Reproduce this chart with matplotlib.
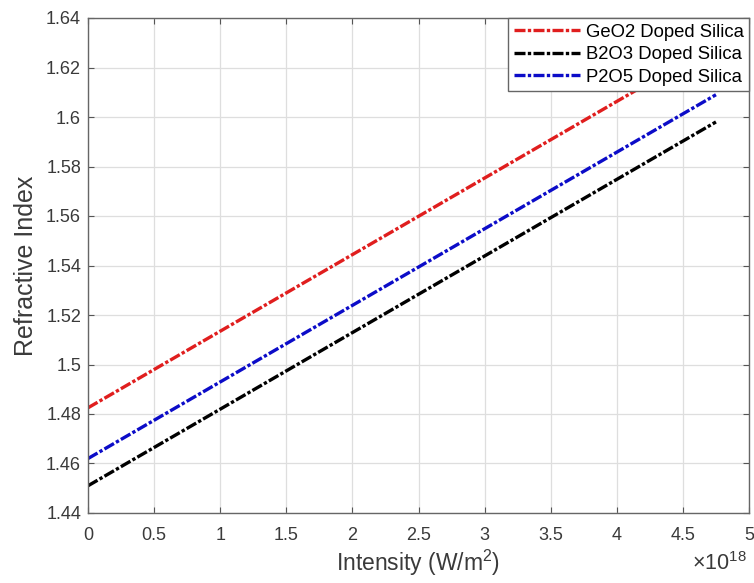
import numpy as np
import matplotlib.pyplot as plt

plt.rcParams['font.family'] = ['Liberation Sans', 'DejaVu Sans']
plt.rcParams['mathtext.fontset'] = 'custom'
plt.rcParams['mathtext.rm'] = 'Liberation Sans'
plt.rcParams['mathtext.it'] = 'Liberation Sans'

# intensity endpoints (W/m^2) and refractive index
intensity = [0.0, 4.75e18]
n_geo2 = [1.4825, 1.6295]
n_b2o3 = [1.451, 1.598]
n_p2o5 = [1.462, 1.609]
labels = ['GeO2 Doped Silica', 'B2O3 Doped Silica', 'P2O5 Doped Silica']

fig = plt.figure(figsize=(7.54, 5.83), dpi=100)
# axes box: x 88..749 px, y 18..513 px
ax = fig.add_axes([88 / 754, 1 - 513 / 583, 661 / 754, 495 / 583])

dash = (0, (3.3, 0.7, 1.0, 0.7))
ax.plot(intensity, n_geo2, color='#e01e1e', lw=2.4, linestyle=dash, label=labels[0])
ax.plot(intensity, n_b2o3, color='black', lw=2.4, linestyle=dash, label=labels[1])
ax.plot(intensity, n_p2o5, color='#0c0cc8', lw=2.4, linestyle=dash, label=labels[2])

ax.set_xlim(0, 5e18)
ax.set_ylim(1.44, 1.64)
ax.set_xticks(np.arange(0, 5.01, 0.5) * 1e18)
ax.set_xticklabels(['0', '0.5', '1', '1.5', '2', '2.5', '3', '3.5', '4', '4.5', '5'])
ax.set_yticks(np.arange(1.44, 1.6401, 0.02))
ax.set_yticklabels(['1.44', '1.46', '1.48', '1.5', '1.52', '1.54', '1.56',
                    '1.58', '1.6', '1.62', '1.64'])

ax.grid(True, color='#dedede', lw=0.9)
ax.tick_params(direction='in', length=4, colors='#555555', labelcolor='#3a3a3a',
               labelsize=13, top=True, right=True, labeltop=False,
               labelright=False, pad=5)
ax.tick_params(axis='x', pad=10)
for s in ax.spines.values():
    s.set_color('#666666')
    s.set_linewidth(1.0)

ax.set_xlabel('Intensity (W/m$^2$)', fontsize=16.5, color='#3a3a3a', labelpad=3)
ax.set_ylabel('Refractive Index', fontsize=18, color='#3a3a3a', labelpad=6)
fig.text(692 / 754, 1 - 575 / 583, r'$\times10^{18}$', ha='left', va='bottom',
         fontsize=15.5, color='#3a3a3a')

leg = ax.legend(loc='upper right', fontsize=13.3, frameon=True, fancybox=False,
                borderpad=0.3, labelspacing=0.3, handlelength=3.6,
                handletextpad=0.3, borderaxespad=0.0,
                bbox_to_anchor=(1.0, 1.0))
leg.get_frame().set_edgecolor('#666666')
leg.get_frame().set_linewidth(1.0)
leg.get_frame().set_alpha(1.0)

fig.savefig('out.png', dpi=100)
